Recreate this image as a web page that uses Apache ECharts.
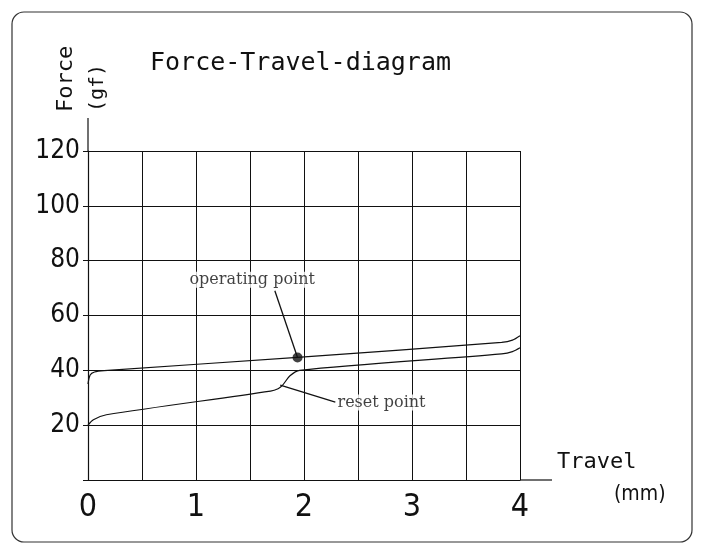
<!DOCTYPE html>
<html><head><meta charset="utf-8">
<script src="https://cdn.jsdelivr.net/npm/echarts@6/dist/echarts.min.js"></script>
<style>html,body{margin:0;padding:0;background:#fff}#c{width:704px;height:553px}</style>
</head><body><div id="c"></div>
<script>
const operatingCurve = [[0,35],[0.02,38.3],[0.06,39.4],[0.15,39.9],[1.94,44.7],[3.83,50.2],[3.93,51],[4,52.6]];
const resetCurve = [[0,20],[0.05,22],[0.17,23.8],[1.69,32.4],[1.76,33.3],[1.8,34.5],[1.87,38],[1.96,40],[3.83,46],[3.93,46.8],[4,48.2]];
const operatingPoint = [[1.94,44.7]];
const opLabel = {text:'operating point', at:[1.52,73], lineFrom:[1.73,69], lineTo:[1.94,44.7]};
const resetLabel = {text:'reset point', at:[2.31,28.3], lineFrom:[1.78,34.6], lineTo:[2.29,28.4]};
const xTicks = [0,1,2,3,4];
const yTicks = [20,40,60,80,100,120];

const C = '#111';
const chart = echarts.init(document.getElementById('c'));
chart.setOption({
  animation:false,
  backgroundColor:'#fff',
  grid:{left:88,right:184,top:151,bottom:73},
  xAxis:{type:'value',min:0,max:4,interval:0.5,
    axisLine:{lineStyle:{color:C,width:1.2}},axisTick:{show:false},
    axisLabel:{margin:12,fontSize:32,color:C,fontFamily:'DejaVu Sans Condensed',
      formatter:v=>xTicks.includes(v)?String(v):''},
    splitLine:{lineStyle:{color:C,width:1}}},
  yAxis:{type:'value',min:0,max:120,interval:20,
    axisLine:{lineStyle:{color:C,width:1.2}},
    axisTick:{show:true,length:5,lineStyle:{color:C}},
    axisLabel:{margin:8,fontSize:26,color:C,fontFamily:'DejaVu Sans Condensed',
      formatter:v=>yTicks.includes(v)?String(v):''},
    splitLine:{lineStyle:{color:C,width:1}}},
  series:[
    {type:'line',data:operatingCurve,smooth:0.3,symbol:'none',lineStyle:{color:C,width:1.2}},
    {type:'line',data:resetCurve,smooth:0.3,symbol:'none',lineStyle:{color:C,width:1.2}},
    {type:'scatter',data:operatingPoint,symbolSize:10,itemStyle:{color:C},z:5},
    {type:'line',data:[],clip:false,markLine:{silent:true,symbol:'none',animation:false,
      lineStyle:{color:C,width:1.3,type:'solid'},label:{show:false},
      data:[
        [{coord:opLabel.lineFrom},{coord:opLabel.lineTo}],
        [{coord:resetLabel.lineFrom},{coord:resetLabel.lineTo}],
        [{coord:[0,120]},{coord:[0,132]}],
        [{coord:[4,0]},{coord:[4.3,0]}]
      ]}},
    {type:'scatter',symbolSize:0,clip:false,data:[
        {value:opLabel.at,label:{show:true,position:'inside',formatter:opLabel.text}},
        {value:resetLabel.at,label:{show:true,position:'right',distance:0,formatter:resetLabel.text}}],
      label:{color:C,fontSize:16,fontFamily:'DejaVu Serif',backgroundColor:'#fff'},z:6}
  ],
  graphic:[
    {type:'rect',shape:{x:12,y:12,width:680,height:530,r:12},style:{fill:'none',stroke:'#333',lineWidth:1.2}},
    {type:'line',shape:{x1:88,y1:151,x2:88,y2:118},style:{stroke:C,lineWidth:1.2}},
    {type:'line',shape:{x1:520,y1:480,x2:552,y2:480},style:{stroke:C,lineWidth:1.2}},
    {type:'text',left:150,top:51,style:{text:'Force-Travel-diagram',font:'25px "DejaVu Sans Mono"',fill:C}},
    {type:'text',x:55,y:112,rotation:Math.PI/2,style:{text:'Force',font:'22px "DejaVu Sans Mono"',fill:C}},
    {type:'text',x:88,y:112,rotation:Math.PI/2,style:{text:'(gf)',font:'20px "DejaVu Sans Mono"',fill:C}},
    {type:'text',left:557,top:451,style:{text:'Travel',font:'22px "DejaVu Sans Mono"',fill:C}},
    {type:'text',left:614,top:484,style:{text:'(mm)',font:'21px "DejaVu Sans Condensed"',fill:C}}
  ]
});
</script></body></html>
